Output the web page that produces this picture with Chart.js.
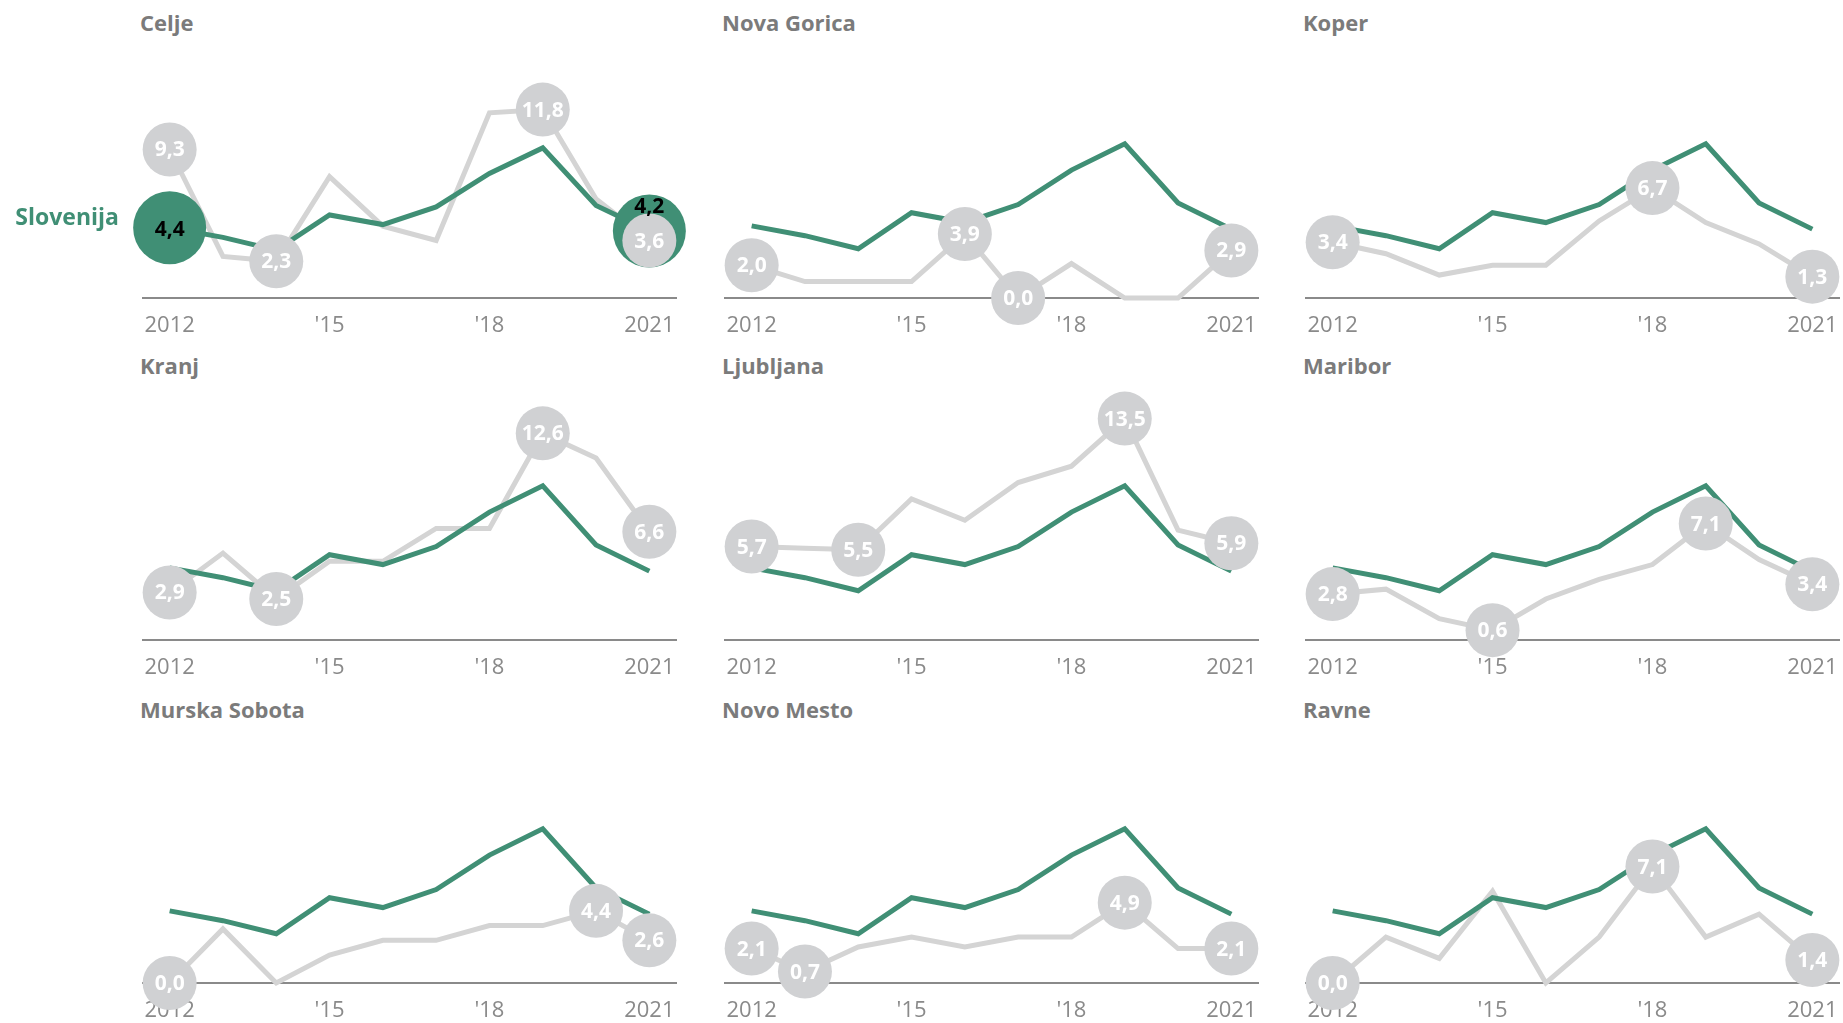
<!DOCTYPE html>
<html>
<head>
<meta charset="utf-8">
<script src="https://cdn.jsdelivr.net/npm/chart.js@4/dist/chart.umd.min.js"></script>
<style>
html,body{margin:0;padding:0;background:#fff;overflow:hidden;width:1843px;height:1023px;}
canvas.c{position:absolute;}
.t{position:absolute;font-family:'Open Sans';font-weight:bold;font-size:22px;color:#7b7b7b;line-height:30px;white-space:nowrap;}
.slo{position:absolute;font-family:'Open Sans';font-weight:bold;font-size:23px;color:#408f75;line-height:30px;white-space:nowrap;text-align:right;}
</style>
</head>
<body>
<script>
// ---- data ----
const years = [2012, 2013, 2014, 2015, 2016, 2017, 2018, 2019, 2020, 2021];
const tickLabels = ["2012", "", "", "'15", "", "", "'18", "", "", "2021"];
const slovenija = [4.4, 3.8, 3.0, 5.2, 4.6, 5.7, 7.8, 9.4, 5.8, 4.2];

const celje        = [9.3, 2.6, 2.3, 7.6, 4.5, 3.6, 11.6, 11.8, 6.2, 3.6];
const novaGorica   = [2.0, 1.0, 1.0, 1.0, 3.9, 0.0, 2.1, 0.0, 0.0, 2.9];
const koper        = [3.4, 2.7, 1.4, 2.0, 2.0, 4.7, 6.7, 4.6, 3.3, 1.3];
const kranj        = [2.9, 5.3, 2.5, 4.8, 4.8, 6.8, 6.8, 12.6, 11.1, 6.6];
const ljubljana    = [5.7, 5.6, 5.5, 8.6, 7.3, 9.6, 10.6, 13.5, 6.7, 5.9];
const maribor      = [2.8, 3.1, 1.3, 0.6, 2.5, 3.7, 4.6, 7.1, 4.9, 3.4];
const murskaSobota = [0.0, 3.3, 0.0, 1.7, 2.6, 2.6, 3.5, 3.5, 4.4, 2.6];
const novoMesto    = [2.1, 0.7, 2.2, 2.8, 2.2, 2.8, 2.8, 4.9, 2.1, 2.1];
const ravne        = [0.0, 2.8, 1.5, 5.6, 0.0, 2.8, 7.1, 2.8, 4.2, 1.4];

const regionNames = ["Celje", "Nova Gorica", "Koper", "Kranj", "Ljubljana", "Maribor", "Murska Sobota", "Novo Mesto", "Ravne"];
const regionValues = [celje, novaGorica, koper, kranj, ljubljana, maribor, murskaSobota, novoMesto, ravne];
const nationalLabel = "Slovenija";

// ---- layout / style ----
const GREEN = '#408f75';
const GRAY_LINE = '#d4d4d4';
const GRAY_DOT = '#d0d1d3';
const AXIS_COL = '#8a8a8a';
const Y_MAX = 15;
const AXIS_LEFT0 = 143, COL_PITCH = 581.5, PLOT_W = 533;
const AXIS_Y0 = 297.5, ROW_PITCH = 342.6, PLOT_H = 246;
const TITLE_Y0 = 22.3, TITLE_PITCH = 343.8;
const PAD_L = 45, PAD_T = 30, XAXIS_H = 46;

const fmt = v => v.toFixed(1).replace('.', ',');

function labelledIdx(vals) {
  let mn = 0, mx = 0;
  vals.forEach((v, i) => { if (v < vals[mn]) mn = i; if (v > vals[mx]) mx = i; });
  return new Set([0, vals.length - 1, mn, mx]);
}

const labelPlugin = {
  id: 'valueLabels',
  afterDatasetsDraw(chart) {
    const o = chart.options.plugins.valueLabels;
    const ctx = chart.ctx, xs = chart.scales.x, ys = chart.scales.y;
    ctx.save();
    ctx.font = 'bold 21px "Open Sans"';
    ctx.textAlign = 'center';
    ctx.textBaseline = 'middle';
    ctx.fillStyle = '#ffffff';
    o.idx.forEach(i => {
      ctx.fillText(fmt(o.vals[i]), xs.getPixelForValue(i), ys.getPixelForValue(o.vals[i]) + 1);
    });
    if (o.national) {
      ctx.fillStyle = '#000000';
      [0, slovenija.length - 1].forEach((i, k) => {
        const dy = k === 0 ? 2 : -24;
        ctx.fillText(fmt(slovenija[i]), xs.getPixelForValue(i), ys.getPixelForValue(slovenija[i]) + dy);
      });
    }
    ctx.restore();
  }
};

regionNames.forEach((name, r) => {
  const col = r % 3, row = Math.floor(r / 3);
  const axisLeft = AXIS_LEFT0 + COL_PITCH * col;
  const axisY = AXIS_Y0 + ROW_PITCH * row;
  const vals = regionValues[r];
  const idx = labelledIdx(vals);
  const national = r === 0;

  const t = document.createElement('div');
  t.className = 't';
  t.textContent = name;
  t.style.left = Math.round(axisLeft - 3) + 'px';
  t.style.top = Math.round(TITLE_Y0 + TITLE_PITCH * row - 15.7) + 'px';
  document.body.appendChild(t);

  const cv = document.createElement('canvas');
  cv.className = 'c';
  const W = PAD_L * 2 + PLOT_W, H = PAD_T + PLOT_H + XAXIS_H;
  cv.width = W; cv.height = H;
  cv.style.width = W + 'px'; cv.style.height = H + 'px';
  cv.style.left = Math.round(axisLeft - PAD_L) + 'px';
  cv.style.top = Math.round(axisY - PLOT_H - PAD_T) + 'px';
  document.body.appendChild(cv);

  new Chart(cv, {
    type: 'line',
    data: {
      labels: years,
      datasets: [
        { data: vals, borderColor: GRAY_LINE, borderWidth: 5, pointRadius: 0, order: 3, clip: false, tension: 0 },
        { data: slovenija, borderColor: GREEN, borderWidth: 5, order: 2, clip: false, tension: 0,
          pointRadius: c => (national && (c.dataIndex === 0 || c.dataIndex === slovenija.length - 1)) ? 36.5 : 0,
          pointBackgroundColor: GREEN, pointBorderWidth: 0 },
        { data: vals, showLine: false, order: 1, clip: false,
          pointRadius: c => idx.has(c.dataIndex) ? 27 : 0,
          pointBackgroundColor: GRAY_DOT, pointBorderWidth: 0 }
      ]
    },
    options: {
      responsive: false,
      animation: false,
      events: [],
      devicePixelRatio: 1,
      layout: { padding: { left: PAD_L, right: PAD_L, top: PAD_T, bottom: 0 } },
      plugins: {
        legend: { display: false },
        tooltip: { enabled: false },
        valueLabels: { vals: vals, idx: idx, national: national }
      },
      scales: {
        x: {
          type: 'category',
          offset: true,
          grid: { display: false, drawTicks: false },
          border: { display: true, color: AXIS_COL, width: 2 },
          ticks: { autoSkip: false, maxRotation: 0, padding: 15, color: AXIS_COL,
                   font: { family: 'Open Sans', size: 22 },
                   callback: (v, i) => tickLabels[i] },
          afterFit: s => { s.height = XAXIS_H; }
        },
        y: { display: false, min: 0, max: Y_MAX }
      }
    },
    plugins: [labelPlugin]
  });
});

const s = document.createElement('div');
s.className = 'slo';
s.textContent = nationalLabel;
s.style.left = '0px';
s.style.width = '119px';
s.style.top = '201px';
document.body.appendChild(s);
</script>
</body>
</html>
